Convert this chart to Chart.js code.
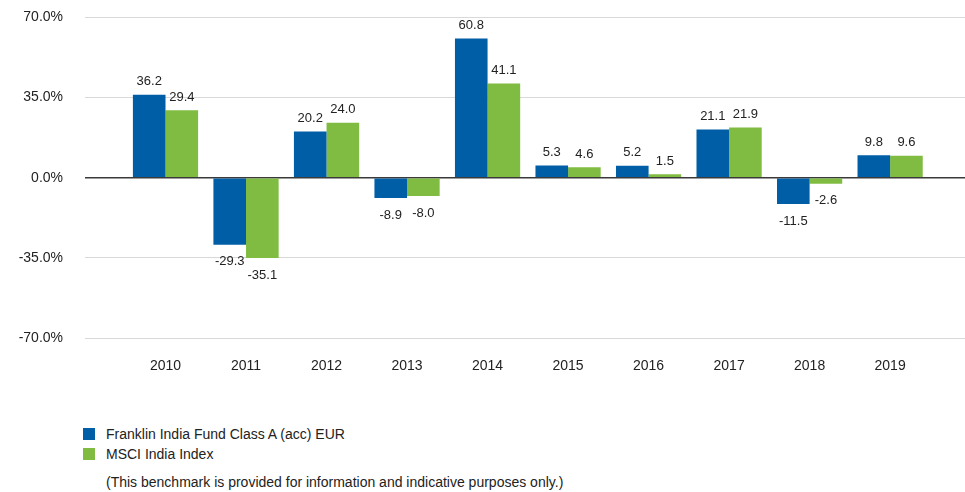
<!DOCTYPE html>
<html>
<head>
<meta charset="utf-8">
<script src="https://cdn.jsdelivr.net/npm/chart.js@4"></script>
<style>
  body { margin: 0; background: #fff; font-family: "Liberation Sans", Arial, sans-serif; color: #222; }
  #wrap { position: relative; width: 965px; height: 492px; overflow: hidden; }
  #box { position: absolute; left: 0; top: -13px; width: 965px; height: 403px; }
  #legend { position: absolute; left: 83px; top: 424px; font-size: 14px; }
  .item { display: flex; align-items: center; height: 20px; }
  .sw { width: 12px; height: 12px; margin-right: 11px; }
  #note { margin-top: 10px; padding-left: 23px; font-size: 14px; }
</style>
</head>
<body>
<div id="wrap">
  <div id="box"><canvas id="returns"></canvas></div>
  <div id="legend"></div>
</div>
<script>
const years = ['2010','2011','2012','2013','2014','2015','2016','2017','2018','2019'];
const fundReturns = [36.2, -29.3, 20.2, -8.9, 60.8, 5.3, 5.2, 21.1, -11.5, 9.8];
const indexReturns = [29.4, -35.1, 24.0, -8.0, 41.1, 4.6, 1.5, 21.9, -2.6, 9.6];
const yTicks = [70, 35, 0, -35, -70];
const seriesNames = ['Franklin India Fund Class A (acc) EUR', 'MSCI India Index'];
const seriesColors = ['#005ea6', '#7fbc41'];

const valueLabels = {
  id: 'valueLabels',
  afterDatasetsDraw(chart) {
    const ctx = chart.ctx;
    ctx.save();
    ctx.font = '13px "Liberation Sans", Arial, sans-serif';
    ctx.fillStyle = '#222';
    ctx.textAlign = 'center';
    ctx.textBaseline = 'middle';
    chart.data.datasets.forEach((ds, d) => {
      chart.getDatasetMeta(d).data.forEach((bar, i) => {
        const v = ds.data[i].y;
        const y = v >= 0 ? bar.y - 13 : bar.y + 17;
        ctx.fillText(v.toFixed(1), bar.x, y);
      });
    });
    ctx.restore();
  }
};

const toPoints = arr => arr.map((v, i) => ({ x: i, y: v }));

new Chart(document.getElementById('returns'), {
  type: 'bar',
  data: {
    datasets: [
      { label: seriesNames[0], data: toPoints(fundReturns), backgroundColor: seriesColors[0] },
      { label: seriesNames[1], data: toPoints(indexReturns), backgroundColor: seriesColors[1] },
    ],
  },
  options: {
    responsive: true, maintainAspectRatio: false, animation: false,
    categoryPercentage: 0.81, barPercentage: 1.0,
    layout: { padding: { top: 7, right: 0, left: 0, bottom: 0 } },
    plugins: { legend: { display: false }, tooltip: { enabled: false } },
    scales: {
      x: {
        type: 'linear', min: -1, max: 9.93, offset: false,
        grid: { display: false }, border: { display: false },
        afterFit: s => { s.height = 52; },
        afterBuildTicks: s => { s.ticks = years.map((_, i) => ({ value: i })); },
        ticks: {
          padding: 12, color: '#222',
          font: { size: 14, family: '"Liberation Sans", Arial, sans-serif' },
          callback: v => years[v] ?? '',
        },
      },
      y: {
        min: -70, max: 70,
        afterBuildTicks: s => { s.ticks = yTicks.map(v => ({ value: v })); },
        afterFit: s => { s.width = 85; },
        border: { display: false },
        grid: {
          drawTicks: false,
          color: c => c.tick && c.tick.value === 0 ? '#3a3a3a' : '#d9d9d9',
          lineWidth: c => c.tick && c.tick.value === 0 ? 1.5 : 1,
        },
        ticks: {
          padding: 22, color: '#222',
          font: { size: 14, family: '"Liberation Sans", Arial, sans-serif' },
          callback: v => v.toFixed(1) + '%',
        },
      },
    },
  },
  plugins: [valueLabels],
});

const legend = document.getElementById('legend');
seriesNames.forEach((name, i) => {
  const row = document.createElement('div');
  row.className = 'item';
  row.innerHTML = '<span class="sw" style="background:' + seriesColors[i] + '"></span><span>' + name + '</span>';
  legend.appendChild(row);
});
const note = document.createElement('div');
note.id = 'note';
note.textContent = '(This benchmark is provided for information and indicative purposes only.)';
legend.appendChild(note);
</script>
</body>
</html>
